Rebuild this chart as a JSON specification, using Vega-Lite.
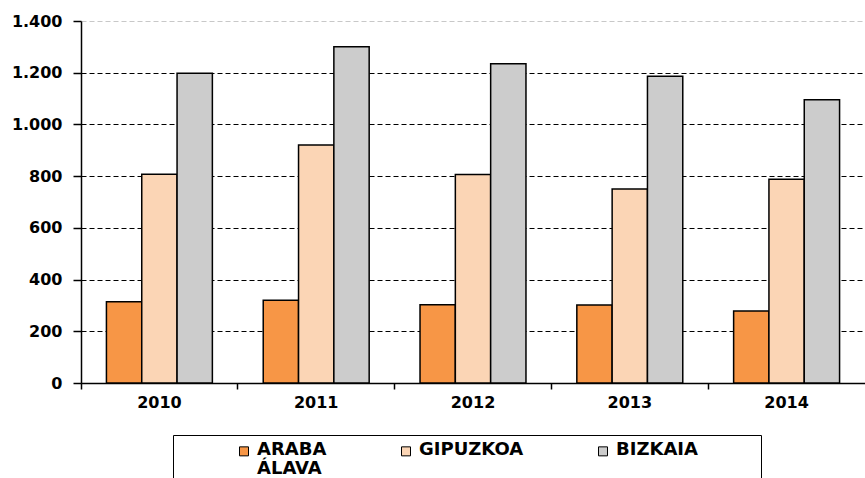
{
  "$schema": "https://vega.github.io/schema/vega-lite/v6.json",
  "autosize": {"type": "none"},
  "width": 784,
  "height": 362,
  "padding": {"left": 81, "top": 21, "right": 0, "bottom": 95},
  "background": "white",
  "config": {
    "view": {"stroke": null},
    "font": "DejaVu Sans"
  },
  "data": {
    "values": [
      {"year": "2010", "region": "ARABA ÁLAVA", "value": 314},
      {"year": "2010", "region": "GIPUZKOA", "value": 807},
      {"year": "2010", "region": "BIZKAIA", "value": 1198},
      {"year": "2011", "region": "ARABA ÁLAVA", "value": 320},
      {"year": "2011", "region": "GIPUZKOA", "value": 920},
      {"year": "2011", "region": "BIZKAIA", "value": 1300},
      {"year": "2012", "region": "ARABA ÁLAVA", "value": 303},
      {"year": "2012", "region": "GIPUZKOA", "value": 806},
      {"year": "2012", "region": "BIZKAIA", "value": 1235},
      {"year": "2013", "region": "ARABA ÁLAVA", "value": 302},
      {"year": "2013", "region": "GIPUZKOA", "value": 750},
      {"year": "2013", "region": "BIZKAIA", "value": 1186},
      {"year": "2014", "region": "ARABA ÁLAVA", "value": 278},
      {"year": "2014", "region": "GIPUZKOA", "value": 788},
      {"year": "2014", "region": "BIZKAIA", "value": 1095}
    ]
  },
  "mark": {"type": "bar", "stroke": "black", "strokeWidth": 1.5},
  "encoding": {
    "x": {
      "field": "year",
      "type": "nominal",
      "scale": {"paddingInner": 0, "paddingOuter": 0},
      "axis": {
        "title": null,
        "labelAngle": 0,
        "labelFont": "DejaVu Sans",
        "labelFontSize": 16,
        "labelFontWeight": "bold",
        "labelColor": "black",
        "labelPadding": 5,
        "tickSize": 6,
        "tickColor": "black",
        "tickWidth": 1.5,
        "bandPosition": 0,
        "domainColor": "black",
        "domainWidth": 1.5,
        "grid": false
      }
    },
    "xOffset": {
      "field": "region",
      "type": "nominal",
      "sort": ["ARABA ÁLAVA", "GIPUZKOA", "BIZKAIA"],
      "scale": {"paddingInner": 0, "paddingOuter": 0.72}
    },
    "y": {
      "field": "value",
      "type": "quantitative",
      "scale": {"domain": [0, 1400], "nice": false},
      "axis": {
        "title": null,
        "values": [0, 200, 400, 600, 800, 1000, 1200, 1400],
        "labelExpr": "replace(format(datum.value, ','), ',', '.')",
        "labelFont": "DejaVu Sans",
        "labelFontSize": 16,
        "labelFontWeight": "bold",
        "labelColor": "black",
        "labelPadding": 11,
        "tickSize": 8,
        "tickColor": "black",
        "tickWidth": 1.5,
        "domainColor": "black",
        "domainWidth": 1.5,
        "grid": true,
        "gridColor": {"condition": {"test": "datum.value == 1400", "value": "#c8c8c8"}, "value": "black"},
        "gridDash": [5, 3],
        "gridWidth": 1.2
      }
    },
    "fill": {
      "field": "region",
      "type": "nominal",
      "sort": ["ARABA ÁLAVA", "GIPUZKOA", "BIZKAIA"],
      "scale": {
        "domain": ["ARABA ÁLAVA", "GIPUZKOA", "BIZKAIA"],
        "range": ["#F79646", "#FBD5B5", "#CCCCCC"]
      },
      "legend": {
        "title": null,
        "orient": "none",
        "legendX": 92,
        "legendY": 414,
        "direction": "horizontal",
        "strokeColor": "black",
        "fillColor": "white",
        "padding": 6,
        "symbolType": "M-1,-0.7H1V1.3H-1Z",
        "symbolSize": 81,
        "symbolStrokeColor": "black",
        "symbolStrokeWidth": 1,
        "symbolOffset": 56,
        "labelOffset": 4,
        "columnPadding": 14,
        "labelFont": "DejaVu Sans",
        "labelFontSize": 18,
        "labelFontWeight": "bold",
        "labelColor": "black",
        "labelLimit": 300,
        "labelExpr": "datum.label == 'ARABA ÁLAVA' ? ['ARABA', 'ÁLAVA'] : datum.label == 'BIZKAIA' ? ['BIZKAIA\u2800\u2800\u2800\u2800', ' '] : [datum.label, ' ']",
        "encode": {"labels": {"update": {"lineHeight": {"value": 19}}}}
      }
    }
  }
}
